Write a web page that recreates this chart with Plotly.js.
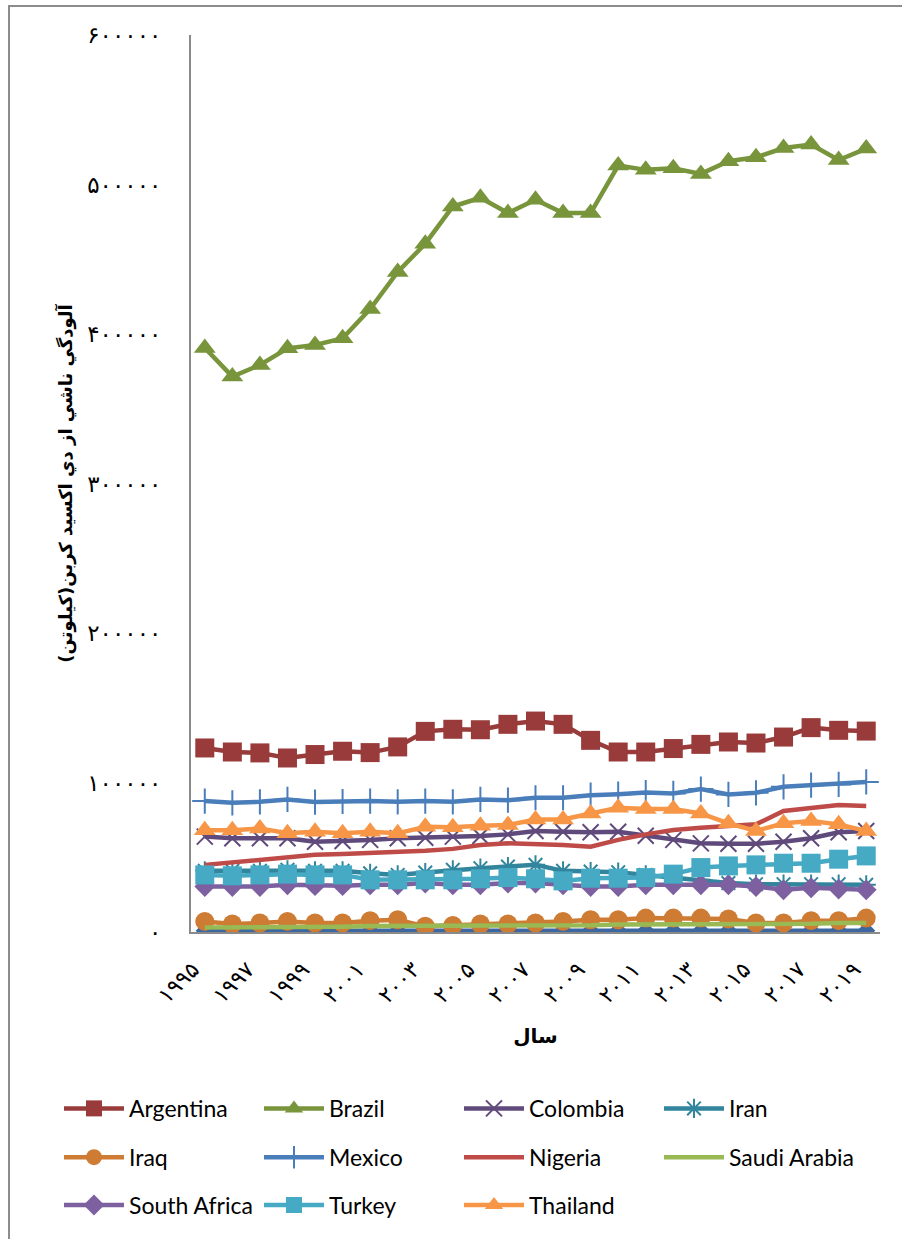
<!DOCTYPE html>
<html>
<head>
<meta charset="utf-8">
<script src="https://cdn.plot.ly/plotly-3.0.1.min.js"></script>
<style>
html,body{margin:0;padding:0;background:#fff;overflow:hidden;}
#wrap{position:relative;width:902px;height:1239px;}
#frame{position:absolute;left:8px;top:5px;width:1000px;height:1400px;border:2px solid #8c8c8c;box-sizing:border-box;pointer-events:none;}
#chart{position:absolute;left:0;top:0;width:902px;height:1239px;}
</style>
</head>
<body>
<div id="wrap"><div id="chart"></div><div id="frame"></div></div>
<script>
const years = [1995,1996,1997,1998,1999,2000,2001,2002,2003,2004,2005,2006,2007,2008,2009,2010,2011,2012,2013,2014,2015,2016,2017,2018,2019];

const argentina = [123100,120400,119800,116400,118700,120900,120000,123800,134200,135600,135300,138900,141100,138900,128200,120400,120400,122700,125500,127100,126400,130400,136700,134900,134400];
const brazil = [390700,371500,379300,390400,392700,397100,416700,441500,460400,485300,491100,480900,489800,480900,480900,512700,509800,510900,507100,515600,518200,524400,526700,516400,524000];
const colombia = [63800,62700,62700,62700,60400,60900,61600,62700,63100,63800,64200,65300,67600,67100,66700,67100,64400,61600,59300,59000,59000,60400,62700,66700,67600];
const iran = [40900,40900,40900,41600,40900,40900,39300,38200,39800,41600,42700,43800,44900,40900,40400,40000,38200,36400,35000,32700,32000,32000,32000,32000,31600];
const iraq = [7100,5300,6000,7100,6000,6000,7600,8200,3800,4400,5300,5300,6000,7100,8200,8200,9300,9300,9300,8700,6000,6000,7600,7600,9300];
const mexico = [87600,86400,87100,88700,86900,87300,87600,87100,87600,87100,88700,88200,89800,89800,91500,92200,93300,92700,95600,92000,93100,97100,98200,98700,100400];
const nigeria = [44900,46700,48200,50400,51600,52200,52700,53300,54400,55600,58200,59300,59000,58200,57100,61600,65300,68200,69800,71100,72000,80900,83100,84900,84200];
const saudiArabia = [3000,3000,3500,3500,3500,3500,4000,4000,4000,4000,4000,4500,4500,4500,4500,5000,5000,5000,5000,5000,5500,5500,5500,6000,6000];
const southAfrica = [30400,30400,30400,31600,31000,31000,31600,31600,32700,31600,31600,32700,32700,31600,30400,30400,31600,31600,31600,31600,30400,28200,29600,28700,28200];
const turkey = [38200,37600,38200,38700,38200,38200,34900,34900,34900,34900,35600,36400,35600,34200,36000,36000,36400,38700,43100,44200,44900,46000,46000,48700,50900];
const thailand = [68000,68000,69300,66000,67100,66000,67100,66000,70400,70000,71100,71600,75300,75300,79300,83100,82200,82200,79300,72700,67600,72700,74200,72000,67600];
const unnamedSeries = [800,800,800,800,800,800,800,900,900,900,900,900,900,900,900,900,900,900,900,900,900,900,900,900,900];

const yTickVals = [0,100000,200000,300000,400000,500000,600000];
const yTickText = ['۰','۱۰۰۰۰۰','۲۰۰۰۰۰','۳۰۰۰۰۰','۴۰۰۰۰۰','۵۰۰۰۰۰','۶۰۰۰۰۰'];
const xTickVals = [1995,1997,1999,2001,2003,2005,2007,2009,2011,2013,2015,2017,2019];
const xTickText = ['۱۹۹۵','۱۹۹۷','۱۹۹۹','۲۰۰۱','۲۰۰۳','۲۰۰۵','۲۰۰۷','۲۰۰۹','۲۰۱۱','۲۰۱۳','۲۰۱۵','۲۰۱۷','۲۰۱۹'];

const yTitle = 'آلودگي ناشي از دي اكسيد كربن(كيلوتن)';
const xTitle = 'سال';

function tr(name, y, color, symbol, size, opts) {
  opts = opts || {};
  const t = {
    type: 'scatter', mode: symbol ? 'lines+markers' : 'lines',
    name: name, x: years, y: y,
    line: {color: color, width: 4.5},
    legend: opts.legend || 'legend',
    showlegend: opts.showlegend !== false
  };
  if (symbol) {
    t.marker = {symbol: symbol, size: size, color: color};
    if (symbol.indexOf('open') >= 0) t.marker.line = {color: color, width: 2};
  }
  return t;
}

const data = [
  tr('', unnamedSeries, '#3C67A0', 'diamond', 14, {showlegend: false}),
  tr('Argentina', argentina, '#983B3A', 'square', 19),
  tr('Brazil', brazil, '#78953C', 'triangle-up', 19),
  tr('Colombia', colombia, '#604A7B', 'x-thin-open', 16),
  tr('Iran', iran, '#31859C', 'asterisk-open', 16),
  tr('Iraq', iraq, '#CE7B33', 'circle', 19, {legend: 'legend2'}),
  tr('Mexico', mexico, '#4A7EBB', 'cross-thin-open', 18, {legend: 'legend2'}),
  tr('Nigeria', nigeria, '#BE4B48', null, 0, {legend: 'legend2'}),
  tr('Saudi Arabia', saudiArabia, '#98B954', null, 0, {legend: 'legend2'}),
  tr('South Africa', southAfrica, '#7D60A0', 'diamond', 16, {legend: 'legend3'}),
  tr('Turkey', turkey, '#46AAC5', 'square', 19, {legend: 'legend3'}),
  tr('Thailand', thailand, '#F79646', 'triangle-up', 19, {legend: 'legend3'})
];

const legFont = {family: 'Lato, "Open Sans", sans-serif', size: 23, color: '#000'};
function leg(y) {
  return {orientation: 'h', x: -0.1916, xanchor: 'left', y: y, yanchor: 'middle',
    font: legFont, entrywidth: 125, entrywidthmode: 'pixels', itemwidth: 60,
    traceorder: 'normal', bgcolor: 'rgba(0,0,0,0)', itemclick: false};
}

const layout = {
  width: 902, height: 1239,
  margin: {l: 191, r: 22, t: 35, b: 304},
  paper_bgcolor: '#fff', plot_bgcolor: '#fff',
  showlegend: true,
  xaxis: {
    range: [1994.5, 2019.5], tickvals: xTickVals, ticktext: xTickText,
    tickangle: -45, showgrid: false, zeroline: false,
    showline: true, linecolor: '#8a8a8a', linewidth: 2, ticks: '',
    ticklabelstandoff: 14, ticklabelshift: -12,
    tickfont: {family: '"DejaVu Sans", sans-serif', size: 22, color: '#000'},
    title: {text: '<b>' + xTitle + '</b>', standoff: 22,
      font: {family: '"DejaVu Sans", sans-serif', size: 20, color: '#000'}}
  },
  yaxis: {
    range: [0, 600000], tickvals: yTickVals, ticktext: yTickText,
    showgrid: false, zeroline: false,
    showline: true, linecolor: '#8a8a8a', linewidth: 2, ticks: '',
    ticklabelstandoff: 23,
    tickfont: {family: '"DejaVu Sans", sans-serif', size: 23, color: '#000'},
    title: {text: '<b>' + yTitle + '</b>', standoff: 10,
      font: {family: '"DejaVu Sans", sans-serif', size: 18, color: '#000'}}
  },
  legend: leg(-0.1967),
  legend2: leg(-0.2511),
  legend3: leg(-0.3044)
};

Plotly.newPlot('chart', data, layout, {displayModeBar: false, staticPlot: true});
</script>
</body>
</html>
